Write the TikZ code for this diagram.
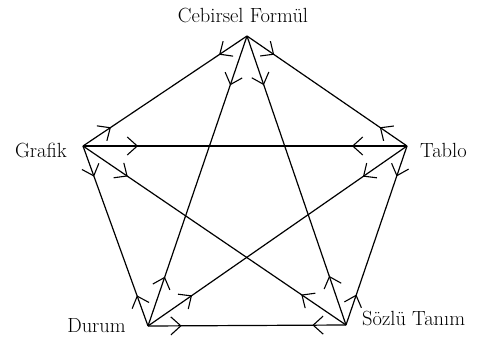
\documentclass[tikz,border=0pt]{standalone}
\usepackage{tikz}
\usetikzlibrary{arrows.meta,decorations.markings}

\begin{document}
\begin{tikzpicture}[
  x=1pt, y=-1pt,
  font=\fontsize{20.5}{24}\selectfont,
  caption/.style={inner sep=0pt},
  link/.style={line width=1.2pt, postaction={decorate},
    decoration={markings,
      mark=at position 0.17 with {\arrow{Straight Barb[length=10pt,width=18pt,line width=1.1pt]}},
      mark=at position 0.83 with {\arrowreversed{Straight Barb[length=10pt,width=18pt,line width=1.1pt]}}}}
]
\useasboundingbox (0,0) rectangle (480,340);

\coordinate (cf) at (247,36);
\coordinate (gr) at (83,146);
\coordinate (tb) at (407,146);
\coordinate (du) at (148,326);
\coordinate (st) at (346,325);

\node[caption, anchor=base] (cfl) at (243,23) {Cebirsel Formül};
\node[caption, anchor=base east] (grl) at (67,157) {Grafik};
\node[caption, anchor=base west] (tbl) at (420,157) {Tablo};
\node[caption, anchor=base east] (dul) at (126,332) {Durum};
\node[caption, anchor=base west] (stl) at (362,325) {Sözlü Tanım};

% pentagon
\draw[link] (cf) -- (gr);
\draw[link] (cf) -- (tb);
\draw[link] (gr) -- (du);
\draw[link] (du) -- (st);
\draw[link] (st) -- (tb);
% star
\draw[link] (gr) -- (tb);
\draw[link] (gr) -- (st);
\draw[link] (du) -- (cf);
\draw[link] (du) -- (tb);
\draw[link] (st) -- (cf);
\end{tikzpicture}
\end{document}
